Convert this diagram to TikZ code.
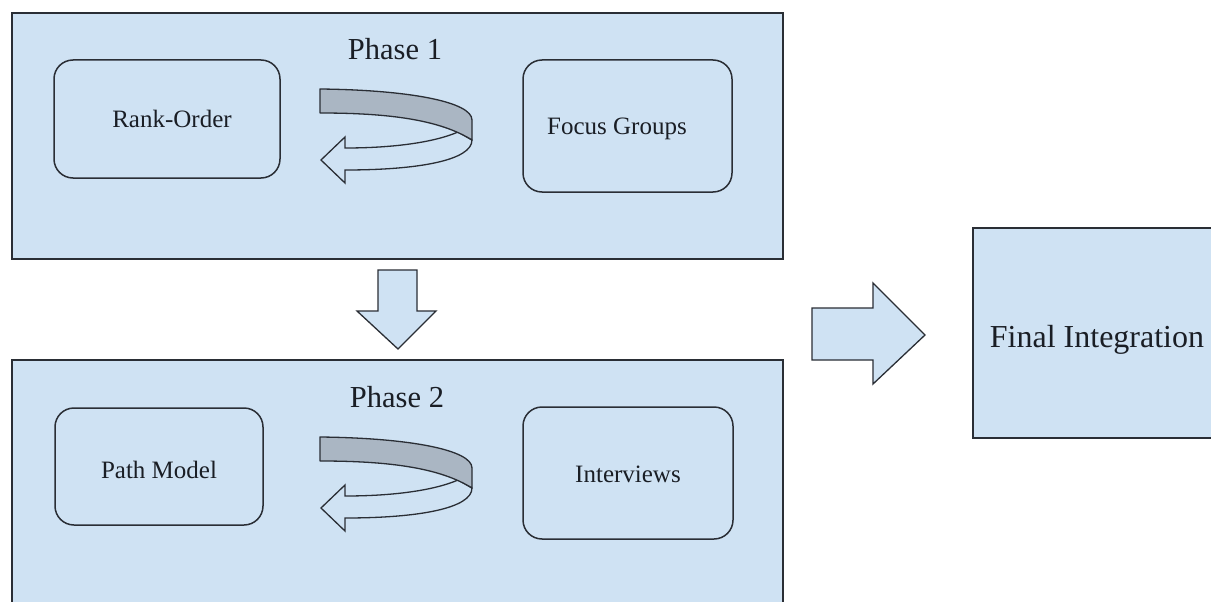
\documentclass[tikz,border=0pt]{standalone}
\usepackage{fontspec}
\setmainfont{Liberation Serif}
\begin{document}
\begin{tikzpicture}[x=1pt,y=-1pt,
  every node/.style={inner sep=0pt, outer sep=0pt},
  panel/.style={draw=lineclr, fill=boxfill, line width=1.5pt},
  roundbox/.style={draw=lineclr, fill=boxfill, line width=1.5pt, rounded corners=19pt},
  blockarrow/.style={draw=lineclr, fill=boxfill, line width=1.3pt, line join=miter},
  ribbonback/.style={draw=lineclr, fill=ribbon, line width=1.3pt, line join=round},
  ribbonfront/.style={draw=lineclr, fill=boxfill, line width=1.3pt, line join=miter},
  title/.style={text=txtclr, font=\fontsize{30.5}{36}\selectfont, anchor=base},
  big/.style={text=txtclr, font=\fontsize{32}{38}\selectfont, anchor=base},
  small/.style={text=txtclr, font=\fontsize{25}{30}\selectfont, anchor=base}]
\definecolor{boxfill}{HTML}{CFE2F3}
\definecolor{ribbon}{HTML}{AAB6C3}
\definecolor{lineclr}{HTML}{2A2E35}
\definecolor{txtclr}{HTML}{1A1E25}

% canvas
\useasboundingbox (0,0) rectangle (1211,602);
\fill[white] (0,0) rectangle (1211,602);
\clip (0,0) rectangle (1211,602);

% phase panels and final box
\node[panel, minimum width=771pt, minimum height=246pt] (phase1) at (397.5,136) {};
\node[panel, minimum width=771pt, minimum height=262pt] (phase2) at (397.5,491) {};
\node[panel, minimum width=257pt, minimum height=210pt] (final) at (1101.5,333) {};

% inner rounded boxes
\node[roundbox, minimum width=226pt, minimum height=118pt] (rank) at (167,119) {};
\node[roundbox, minimum width=209pt, minimum height=132pt] (focus) at (627.5,126) {};
\node[roundbox, minimum width=208pt, minimum height=117pt] (path) at (159,466.5) {};
\node[roundbox, minimum width=210pt, minimum height=132pt] (interv) at (628,473) {};

% labels
\node[title] (t1) at (395,60) {Phase 1};
\node[title] (t2) at (397,407) {Phase 2};
\node[big] (tfinal) at (1097,347) {Final Integration};
\node[small] (trank) at (172,128) {Rank-Order};
\node[small] (tfocus) at (617,135) {Focus Groups};
\node[small] (tpath) at (159,478) {Path Model};
\node[small] (tinterv) at (628,482) {Interviews};

% block arrow from phase 1 down to phase 2
\draw[blockarrow] (378,270) -- (417,270) -- (417,311) -- (436,311) -- (398,349)
  -- (357,311) -- (378,311) -- cycle;

% block arrow towards the final integration
\draw[blockarrow] (812,308) -- (873,308) -- (873,283) -- (925,335) -- (873,384)
  -- (873,360) -- (812,360) -- cycle;

% circular ribbon arrows inside each phase
\foreach \dy in {0,348} {
  \begin{scope}[shift={(0,\dy)}]
    \draw[ribbonfront] (472,140) .. controls (472,160) and (420,170) .. (345,170)
      -- (345,183) -- (321,160) -- (345,137) -- (345,148)
      .. controls (395,148) and (435,142) .. (458,132) -- cycle;
    \draw[ribbonback] (320,89) .. controls (410,90) and (472,102) .. (472,120)
      -- (472,140) .. controls (440,120) and (390,113) .. (320,113) -- cycle;
  \end{scope}
}
\end{tikzpicture}
\end{document}
